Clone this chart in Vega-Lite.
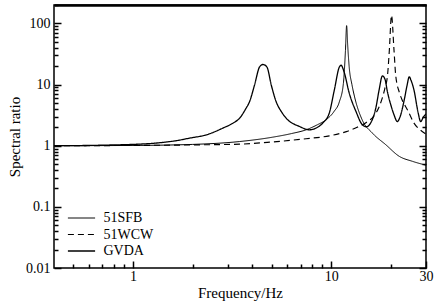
{
  "$schema": "https://vega.github.io/schema/vega-lite/v6.json",
  "autosize": "none",
  "width": 372,
  "height": 263,
  "padding": {"left": 54, "top": 5, "right": 18, "bottom": 38},
  "background": "white",
  "config": {
    "font": "Liberation Serif",
    "view": {"stroke": "black", "strokeWidth": 1.5},
    "axis": {"domain": false, "labelColor": "black", "titleColor": "black", "labelFont": "Liberation Serif", "titleFont": "Liberation Serif", "labelFontSize": 14, "titleFontSize": 15, "titleFontWeight": "normal", "grid": false, "labelFlush": false, "labelOverlap": false}
  },
  "data": {"values": [
    {"s": "GVDA", "f": 0.4, "v": 1.0},
    {"s": "GVDA", "f": 0.6, "v": 1.01},
    {"s": "GVDA", "f": 0.8, "v": 1.03},
    {"s": "GVDA", "f": 1.0, "v": 1.05},
    {"s": "GVDA", "f": 1.37, "v": 1.12},
    {"s": "GVDA", "f": 1.63, "v": 1.2},
    {"s": "GVDA", "f": 1.93, "v": 1.33},
    {"s": "GVDA", "f": 2.35, "v": 1.51},
    {"s": "GVDA", "f": 2.84, "v": 1.94},
    {"s": "GVDA", "f": 3.2, "v": 2.35},
    {"s": "GVDA", "f": 3.45, "v": 2.82},
    {"s": "GVDA", "f": 3.7, "v": 4.0},
    {"s": "GVDA", "f": 3.87, "v": 5.25},
    {"s": "GVDA", "f": 4.1, "v": 9.8},
    {"s": "GVDA", "f": 4.35, "v": 19.5},
    {"s": "GVDA", "f": 4.52, "v": 21.3},
    {"s": "GVDA", "f": 4.73, "v": 19.5},
    {"s": "GVDA", "f": 4.98, "v": 9.8},
    {"s": "GVDA", "f": 5.27, "v": 5.25},
    {"s": "GVDA", "f": 5.6, "v": 3.6},
    {"s": "GVDA", "f": 5.92, "v": 2.82},
    {"s": "GVDA", "f": 6.91, "v": 2.06},
    {"s": "GVDA", "f": 7.76, "v": 1.82},
    {"s": "GVDA", "f": 8.4, "v": 1.95},
    {"s": "GVDA", "f": 9.04, "v": 2.34},
    {"s": "GVDA", "f": 9.77, "v": 3.44},
    {"s": "GVDA", "f": 10.35, "v": 8.1},
    {"s": "GVDA", "f": 10.97, "v": 19.3},
    {"s": "GVDA", "f": 11.2, "v": 20.7},
    {"s": "GVDA", "f": 11.6, "v": 16},
    {"s": "GVDA", "f": 12.3, "v": 7.3},
    {"s": "GVDA", "f": 13.4, "v": 3.44},
    {"s": "GVDA", "f": 14.1, "v": 2.37},
    {"s": "GVDA", "f": 15.0, "v": 2.04},
    {"s": "GVDA", "f": 15.9, "v": 2.46},
    {"s": "GVDA", "f": 16.8, "v": 4.3},
    {"s": "GVDA", "f": 17.4, "v": 8.1},
    {"s": "GVDA", "f": 18.1, "v": 13.9},
    {"s": "GVDA", "f": 18.7, "v": 11.8},
    {"s": "GVDA", "f": 19.1, "v": 8.1},
    {"s": "GVDA", "f": 20.0, "v": 4.5},
    {"s": "GVDA", "f": 20.7, "v": 3.2},
    {"s": "GVDA", "f": 21.5, "v": 2.48},
    {"s": "GVDA", "f": 22.2, "v": 2.96},
    {"s": "GVDA", "f": 23.3, "v": 5.6},
    {"s": "GVDA", "f": 24.1, "v": 9.8},
    {"s": "GVDA", "f": 24.7, "v": 13.4},
    {"s": "GVDA", "f": 25.2, "v": 11.8},
    {"s": "GVDA", "f": 26.1, "v": 8.1},
    {"s": "GVDA", "f": 27.4, "v": 3.44},
    {"s": "GVDA", "f": 28.2, "v": 2.48},
    {"s": "GVDA", "f": 29.2, "v": 3.0},
    {"s": "GVDA", "f": 30, "v": 3.3},
    {"s": "51SFB", "f": 0.4, "v": 1.0},
    {"s": "51SFB", "f": 1.0, "v": 1.01},
    {"s": "51SFB", "f": 2.0, "v": 1.05},
    {"s": "51SFB", "f": 3.45, "v": 1.17},
    {"s": "51SFB", "f": 5.07, "v": 1.38},
    {"s": "51SFB", "f": 6.3, "v": 1.58},
    {"s": "51SFB", "f": 7.46, "v": 1.82},
    {"s": "51SFB", "f": 8.5, "v": 2.2},
    {"s": "51SFB", "f": 9.4, "v": 2.65},
    {"s": "51SFB", "f": 10.3, "v": 3.6},
    {"s": "51SFB", "f": 10.97, "v": 5.2},
    {"s": "51SFB", "f": 11.5, "v": 10.4},
    {"s": "51SFB", "f": 11.78, "v": 36},
    {"s": "51SFB", "f": 11.94, "v": 92},
    {"s": "51SFB", "f": 12.08, "v": 46},
    {"s": "51SFB", "f": 12.3, "v": 19.5},
    {"s": "51SFB", "f": 12.7, "v": 10},
    {"s": "51SFB", "f": 13.1, "v": 6.26},
    {"s": "51SFB", "f": 14.3, "v": 2.65},
    {"s": "51SFB", "f": 16.1, "v": 1.61},
    {"s": "51SFB", "f": 18.8, "v": 1.04},
    {"s": "51SFB", "f": 22.0, "v": 0.67},
    {"s": "51SFB", "f": 25.6, "v": 0.556},
    {"s": "51SFB", "f": 30, "v": 0.48},
    {"s": "51WCW", "f": 0.4, "v": 1.0},
    {"s": "51WCW", "f": 1.0, "v": 1.01},
    {"s": "51WCW", "f": 2.0, "v": 1.03},
    {"s": "51WCW", "f": 3.45, "v": 1.06},
    {"s": "51WCW", "f": 5.0, "v": 1.15},
    {"s": "51WCW", "f": 7.46, "v": 1.3},
    {"s": "51WCW", "f": 9.77, "v": 1.45},
    {"s": "51WCW", "f": 11.9, "v": 1.7},
    {"s": "51WCW", "f": 13.5, "v": 2.0},
    {"s": "51WCW", "f": 15.0, "v": 2.4},
    {"s": "51WCW", "f": 16.3, "v": 3.0},
    {"s": "51WCW", "f": 17.4, "v": 4.3},
    {"s": "51WCW", "f": 18.6, "v": 8.6},
    {"s": "51WCW", "f": 19.2, "v": 14.3},
    {"s": "51WCW", "f": 19.6, "v": 36},
    {"s": "51WCW", "f": 20.1, "v": 135},
    {"s": "51WCW", "f": 20.7, "v": 36},
    {"s": "51WCW", "f": 21.1, "v": 14.3},
    {"s": "51WCW", "f": 22.0, "v": 7.5},
    {"s": "51WCW", "f": 22.8, "v": 5.5},
    {"s": "51WCW", "f": 24.2, "v": 3.85},
    {"s": "51WCW", "f": 26.1, "v": 2.34},
    {"s": "51WCW", "f": 28.7, "v": 1.71},
    {"s": "51WCW", "f": 30, "v": 1.55}
  ]},
  "layer": [
    {
      "mark": {"type": "line", "color": "black", "interpolate": "monotone", "clip": true},
      "encoding": {
        "x": {"field": "f", "type": "quantitative",
          "scale": {"type": "log", "domain": [0.4, 30], "nice": false},
          "axis": {"orient": "bottom", "title": "Frequency/Hz", "titlePadding": 2,
            "values": [1, 10, 30], "labelExpr": "datum.value == 30 ? '30' : datum.value == 10 ? '10' : '1'",
            "offset": -7, "tickSize": 7, "tickColor": "black", "tickWidth": 1.5, "labelPadding": 1}},
        "y": {"field": "v", "type": "quantitative",
          "scale": {"type": "log", "domain": [0.01, 200], "nice": false},
          "axis": {"orient": "left", "title": "Spectral ratio", "titlePadding": 3,
            "values": [0.01, 0.1, 1, 10, 100],
            "labelExpr": "datum.value == 0.01 ? '0.01' : datum.value == 0.1 ? '0.1' : datum.value == 1 ? '1' : datum.value == 10 ? '10' : '100'",
            "offset": -7, "tickSize": 7, "tickColor": "black", "tickWidth": 1.5, "labelPadding": 4}},
        "strokeDash": {"field": "s", "type": "nominal",
          "scale": {"domain": ["51SFB", "51WCW", "GVDA"], "range": [[1, 0], [6, 4], [1, 0]]},
          "legend": {"title": null, "orient": "none", "legendX": 20.5, "legendY": 206, "symbolType": "M-3.4,0H3.4", "symbolSize": 64, "symbolStrokeColor": "black", "symbolFillColor": "transparent", "labelFontSize": 14, "labelFont": "Liberation Serif", "labelColor": "black", "labelOffset": 15, "rowPadding": 2.5, "padding": 0}},
        "strokeWidth": {"field": "s", "type": "nominal",
          "scale": {"domain": ["51SFB", "51WCW", "GVDA"], "range": [1, 1.3, 2.3]},
          "legend": {"title": null, "orient": "none", "legendX": 20.5, "legendY": 206, "symbolType": "M-3.4,0H3.4", "symbolSize": 64, "symbolStrokeColor": "black", "symbolFillColor": "transparent", "labelFontSize": 14, "labelFont": "Liberation Serif", "labelColor": "black", "labelOffset": 15, "rowPadding": 2.5, "padding": 0}}
      }
    },
    {
      "mark": {"type": "line", "opacity": 0},
      "encoding": {
        "x": {"field": "f", "type": "quantitative",
          "scale": {"type": "log", "domain": [0.4, 30], "nice": false},
          "axis": {"orient": "bottom", "title": null, "labels": false,
            "values": [0.5, 0.6, 0.7, 0.8, 0.9, 2, 3, 4, 5, 6, 7, 8, 9, 20],
            "offset": -4, "tickSize": 4, "tickColor": "black", "tickWidth": 1.5}},
        "y": {"field": "v", "type": "quantitative",
          "scale": {"type": "log", "domain": [0.01, 200], "nice": false},
          "axis": {"orient": "left", "title": null, "labels": false,
            "values": [0.02, 0.03, 0.04, 0.05, 0.06, 0.07, 0.08, 0.09, 0.2, 0.3, 0.4, 0.5, 0.6, 0.7, 0.8, 0.9, 2, 3, 4, 5, 6, 7, 8, 9, 20, 30, 40, 50, 60, 70, 80, 90, 200],
            "offset": -4, "tickSize": 4, "tickColor": "black", "tickWidth": 1.5}},
        "detail": {"field": "s", "type": "nominal"}
      }
    },
    {
      "mark": {"type": "line", "opacity": 0},
      "encoding": {
        "x": {"field": "f", "type": "quantitative",
          "scale": {"type": "log", "domain": [0.4, 30], "nice": false},
          "axis": {"orient": "top", "title": null, "labels": false, "ticks": false, "domain": true, "domainColor": "black", "domainWidth": 2.5}},
        "y": {"field": "v", "type": "quantitative",
          "scale": {"type": "log", "domain": [0.01, 200], "nice": false},
          "axis": {"orient": "right", "title": null, "labels": false,
            "values": [0.01, 0.1, 1, 10, 100],
            "offset": -7, "tickSize": 7, "tickColor": "black", "tickWidth": 1.5}},
        "detail": {"field": "s", "type": "nominal"}
      }
    },
    {
      "mark": {"type": "line", "opacity": 0},
      "encoding": {
        "x": {"field": "f", "type": "quantitative",
          "scale": {"type": "log", "domain": [0.4, 30], "nice": false},
          "axis": null},
        "y": {"field": "v", "type": "quantitative",
          "scale": {"type": "log", "domain": [0.01, 200], "nice": false},
          "axis": {"orient": "right", "title": null, "labels": false,
            "values": [0.02, 0.03, 0.04, 0.05, 0.06, 0.07, 0.08, 0.09, 0.2, 0.3, 0.4, 0.5, 0.6, 0.7, 0.8, 0.9, 2, 3, 4, 5, 6, 7, 8, 9, 20, 30, 40, 50, 60, 70, 80, 90, 200],
            "offset": -4, "tickSize": 4, "tickColor": "black", "tickWidth": 1.5}},
        "detail": {"field": "s", "type": "nominal"}
      }
    }
  ],
  "resolve": {"axis": {"x": "independent", "y": "independent"}}
}
